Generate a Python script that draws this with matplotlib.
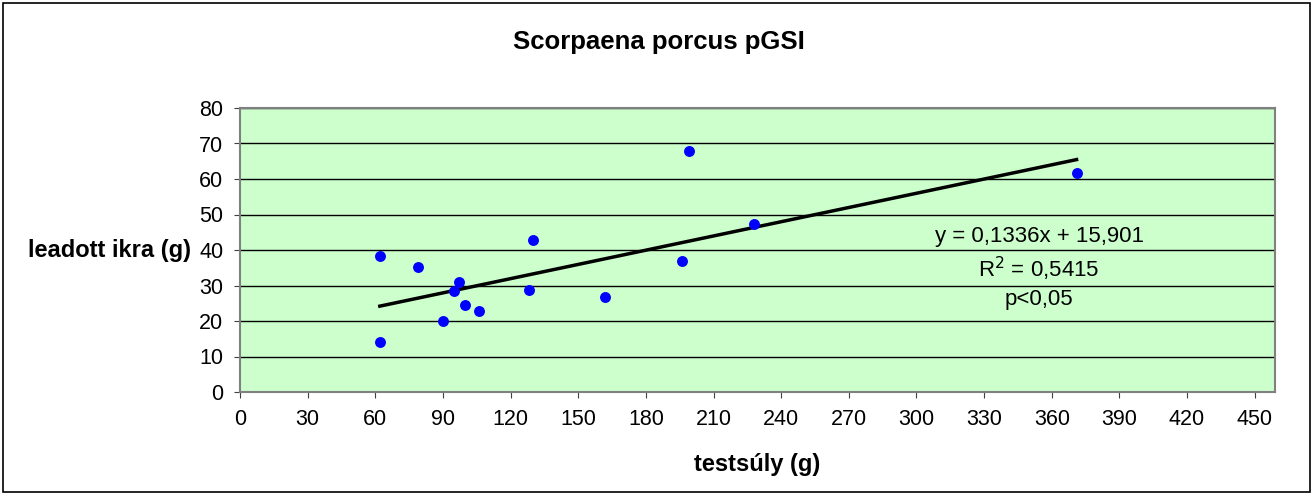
import numpy as np
import matplotlib
matplotlib.use("Agg")
import matplotlib.pyplot as plt
from matplotlib.patches import Rectangle

plt.rcParams['font.family'] = ['Liberation Sans', 'DejaVu Sans']

# adatok (leolvasva)
testsuly = [62, 62, 79, 90, 95, 97, 100, 106, 128, 130, 162, 196, 199, 228, 371]
ikra = [38.3, 14.2, 35.2, 20.1, 28.4, 31.0, 24.6, 22.9, 28.8, 42.9, 26.8, 37.0, 68.0, 47.2, 61.7]

slope = 0.1336
intercept = 15.901
eq_text = "y = 0,1336x + 15,901"
r2_text = "R$^2$ = 0,5415"
p_text = "p<0,05"

fig = plt.figure(figsize=(13.13, 4.95), dpi=100)
ax = fig.add_axes([240 / 1313, 1 - 392 / 495, 1035 / 1313, 284 / 495])

ax.set_facecolor("#CCFFCC")
ax.set_xlim(0, 459)
ax.set_ylim(0, 80)
ax.set_xticks(np.arange(0, 451, 30))
ax.set_yticks(np.arange(0, 81, 10))
ax.yaxis.grid(True, color="black", linewidth=1)
ax.set_axisbelow(True)
for s in ax.spines.values():
    s.set_color("#808080")
    s.set_linewidth(1.5)
ax.tick_params(axis="both", direction="out", length=4, color="#404040",
               labelsize=15.5, pad=8)
ax.tick_params(axis="x", pad=8)

ax.scatter(testsuly, ikra, s=62, color="#0000FF", zorder=3, linewidths=0)

xs = np.array([min(testsuly), max(testsuly)])
ax.plot(xs, slope * xs + intercept, color="black", linewidth=2.5, zorder=2)

ax.text(0.772, 0.549, eq_text, transform=ax.transAxes, ha="center", va="center", fontsize=16)
ax.text(0.772, 0.433, r2_text, transform=ax.transAxes, ha="center", va="center", fontsize=16)
ax.text(0.772, 0.327, p_text, transform=ax.transAxes, ha="center", va="center", fontsize=16)

fig.text(659 / 1313, 1 - 42 / 495, "Scorpaena porcus pGSI", ha="center", va="center",
         fontsize=18.5, fontweight="bold")
fig.text(110 / 1313, 1 - 250 / 495, "leadott ikra (g)", ha="center", va="center",
         fontsize=17, fontweight="bold")
fig.text(757 / 1313, 1 - 465 / 495, "testsúly (g)", ha="center", va="center",
         fontsize=17, fontweight="bold")

fig.patches.append(Rectangle((3 / 1313, 3 / 495), 1307 / 1313, 489 / 495,
                             transform=fig.transFigure, fill=False,
                             edgecolor="black", linewidth=1.2))

fig.savefig("out.png", dpi=100, facecolor="white")
